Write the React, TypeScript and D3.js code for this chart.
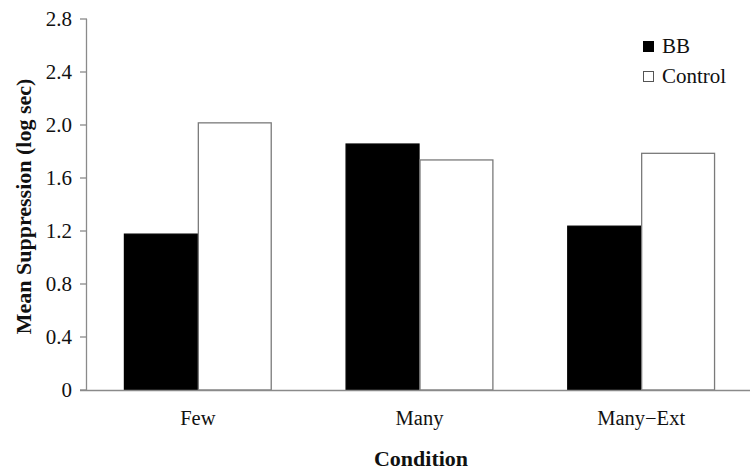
import React from "react";
import * as d3 from "d3";

const categories = ["Few", "Many", "Many\u2212Ext"];
const seriesNames = ["BB", "Control"];
const bbValues = [1.18, 1.86, 1.24];
const controlValues = [2.02, 1.74, 1.79];
const yTicks = [0, 0.4, 0.8, 1.2, 1.6, 2.0, 2.4, 2.8];

const W = 756;
const H = 471;
const left = 87;
const right = 752;
const top = 19;
const bottom = 390;
const font = "'Liberation Serif', 'Times New Roman', serif";

export default function App() {
  const x = d3.scaleBand<string>().domain(categories).range([left, right]).paddingInner(0).paddingOuter(0);
  const inner = d3.scaleBand<string>().domain(seriesNames).range([0, x.bandwidth()]).paddingInner(0).paddingOuter(0.5);
  const y = d3.scaleLinear().domain([0, 2.8]).range([bottom, top]);
  const series = [
    { name: "BB", values: bbValues, fill: "#000", stroke: "#000" },
    { name: "Control", values: controlValues, fill: "#fff", stroke: "#7a7a7a" },
  ];
  const axisColor = "#8a8a8a";

  return (
    <svg width={W} height={H} style={{ position: "absolute", left: 0, top: 0, background: "#fff" }} fontFamily={font}>
      <rect x={0} y={0} width={W} height={H} fill="#fff" />
      {series.map((s) =>
        s.values.map((v, i) => {
          const bx = (x(categories[i]) as number) + (inner(s.name) as number);
          return (
            <rect
              key={s.name + i}
              x={bx + 0.5}
              y={y(v) + 0.5}
              width={inner.bandwidth() - 1}
              height={bottom - y(v) - 0.5}
              fill={s.fill}
              stroke={s.stroke}
              strokeWidth={1.3}
            />
          );
        })
      )}
      {/* y axis */}
      <line x1={left - 0.5} x2={left - 0.5} y1={top} y2={bottom} stroke={axisColor} strokeWidth={1.3} />
      {yTicks.map((t) => (
        <g key={t}>
          <line x1={left - 7} x2={left} y1={y(t)} y2={y(t)} stroke={axisColor} strokeWidth={1.3} />
          <text x={72} y={y(t)} dy="0.35em" textAnchor="end" fontSize={21} fill="#111">
            {t === 0 ? "0" : t.toFixed(1)}
          </text>
        </g>
      ))}
      {/* x axis */}
      <line x1={left - 7} x2={right - 2} y1={bottom + 0.5} y2={bottom + 0.5} stroke={axisColor} strokeWidth={1.3} />
      {categories.map((c) => (
        <text key={c} x={(x(c) as number) + x.bandwidth() / 2} y={425} textAnchor="middle" fontSize={20.5} fill="#111">
          {c}
        </text>
      ))}
      <text x={421} y={466} textAnchor="middle" fontSize={22} fontWeight="bold" fill="#111">
        Condition
      </text>
      <text
        transform={`translate(31, 206.5) rotate(-90)`}
        textAnchor="middle"
        fontSize={22}
        fontWeight="bold"
        fill="#111"
      >
        Mean Suppression (log sec)
      </text>
      {/* legend */}
      {series.map((s, i) => (
        <g key={s.name} transform={`translate(643, ${41 + i * 30})`}>
          <rect x={0.5} y={0.5} width={10} height={10} fill={s.fill} stroke={s.name === "BB" ? "#000" : "#555"} strokeWidth={1} />
          <text x={19} y={11.5} fontSize={21} fill="#111">
            {s.name}
          </text>
        </g>
      ))}
    </svg>
  );
}
